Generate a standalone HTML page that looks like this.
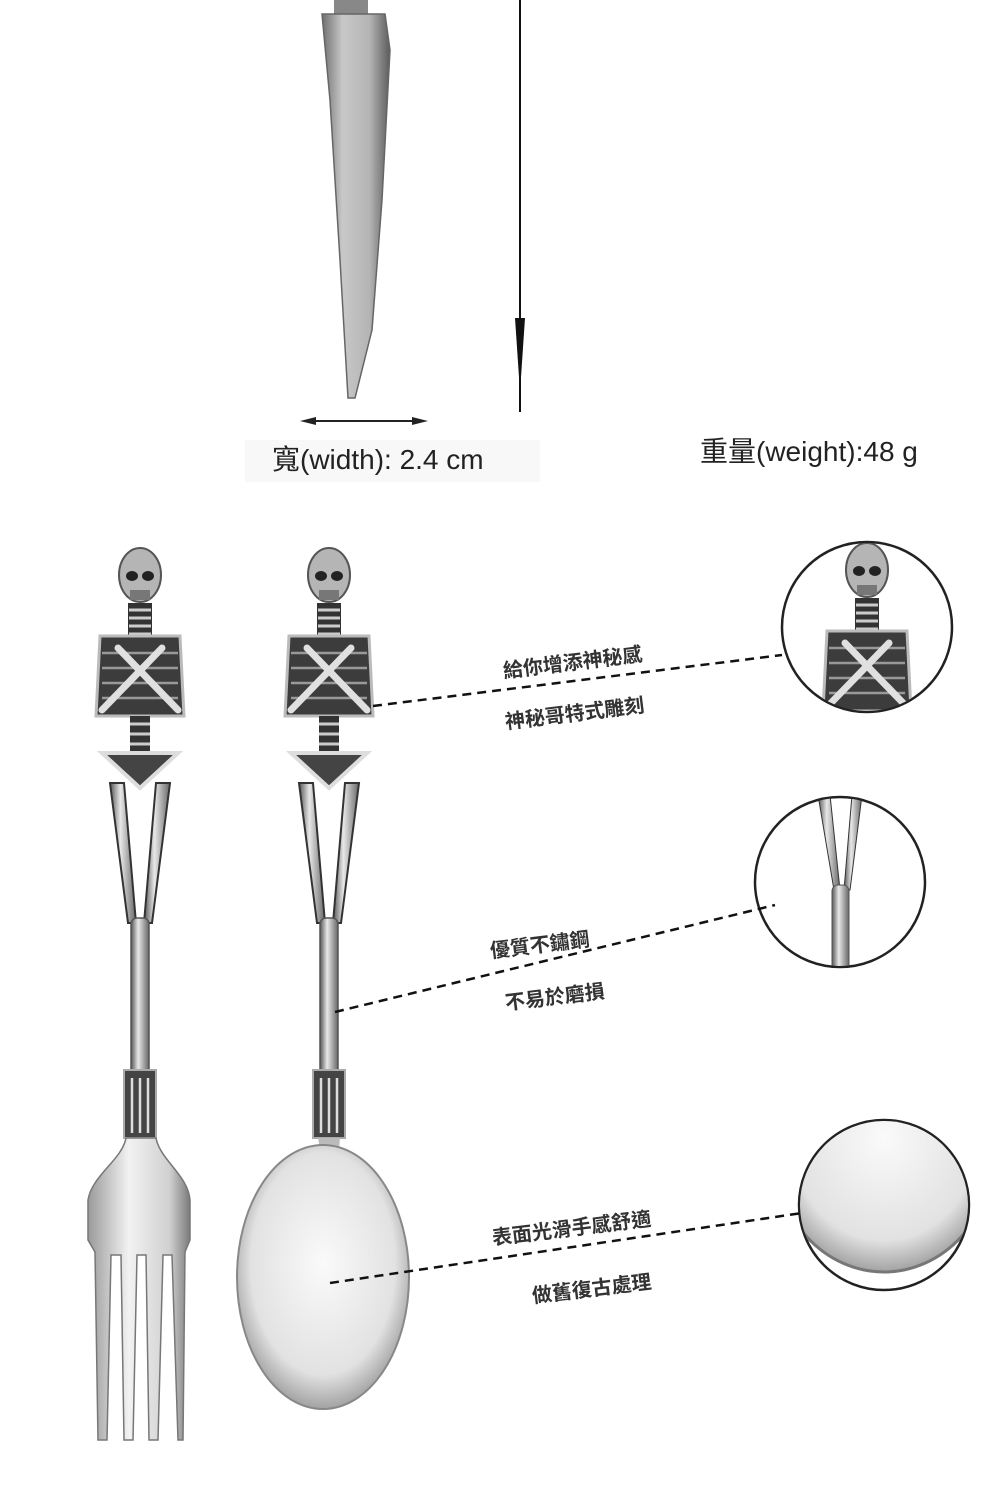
<!DOCTYPE html>
<html><head><meta charset="utf-8"><style>
html,body{margin:0;padding:0;background:#fff;}
body{width:1000px;height:1500px;overflow:hidden;position:relative;font-family:"Liberation Sans","Noto Sans CJK TC",sans-serif;}
.lbl{position:absolute;font-size:20px;color:#333;font-weight:bold;transform:rotate(-7deg);transform-origin:left center;white-space:nowrap;font-family:"Liberation Sans","Noto Sans CJK TC",sans-serif;}
</style></head><body>
<svg width="1000" height="1500" style="position:absolute;left:0;top:0">
<defs>
<linearGradient id="blade" x1="0" x2="1" y1="0" y2="0"><stop offset="0" stop-color="#6f6f6f"/><stop offset="0.3" stop-color="#c8c8c8"/><stop offset="0.7" stop-color="#b4b4b4"/><stop offset="1" stop-color="#5c5c5c"/></linearGradient>
<linearGradient id="bone" x1="0" x2="1"><stop offset="0" stop-color="#555"/><stop offset="0.4" stop-color="#e8e8e8"/><stop offset="1" stop-color="#666"/></linearGradient>
<radialGradient id="spoon" cx="0.5" cy="0.45" r="0.6"><stop offset="0" stop-color="#fafafa"/><stop offset="0.7" stop-color="#e2e2e2"/><stop offset="1" stop-color="#8a8a8a"/></radialGradient>
<linearGradient id="fork" x1="0" x2="1"><stop offset="0" stop-color="#9a9a9a"/><stop offset="0.4" stop-color="#f2f2f2"/><stop offset="0.8" stop-color="#d0d0d0"/><stop offset="1" stop-color="#7a7a7a"/></linearGradient>
<g id="skel">
<rect x="-12" y="55" width="24" height="35" fill="#333"/>
<g stroke="#ccc" stroke-width="3"><line x1="-11" y1="62" x2="11" y2="62"/><line x1="-11" y1="70" x2="11" y2="70"/><line x1="-11" y1="78" x2="11" y2="78"/><line x1="-11" y1="86" x2="11" y2="86"/></g>
<ellipse cx="0" cy="27" rx="21" ry="27" fill="#b5b5b5" stroke="#555" stroke-width="2"/>
<ellipse cx="-8" cy="28" rx="6" ry="5" fill="#222"/><ellipse cx="8" cy="28" rx="6" ry="5" fill="#222"/>
<path d="M-10 42 h20 v10 h-20z" fill="#777"/>
<path d="M-40 88 L40 88 L44 168 L-44 168Z" fill="#3c3c3c" stroke="#bbb" stroke-width="3"/>
<g stroke="#999" stroke-width="2.5"><line x1="-38" y1="105" x2="38" y2="105"/><line x1="-38" y1="120" x2="38" y2="120"/><line x1="-38" y1="135" x2="38" y2="135"/><line x1="-38" y1="150" x2="38" y2="150"/></g>
<g stroke="#e0e0e0" stroke-width="7" stroke-linecap="round"><line x1="-38" y1="162" x2="22" y2="100"/><line x1="38" y1="162" x2="-22" y2="100"/></g>
<rect x="-10" y="168" width="20" height="38" fill="#333"/>
<g stroke="#ccc" stroke-width="3"><line x1="-10" y1="176" x2="10" y2="176"/><line x1="-10" y1="186" x2="10" y2="186"/><line x1="-10" y1="196" x2="10" y2="196"/></g>
<path d="M-38 205 L38 205 L0 240Z" fill="#444" stroke="#ddd" stroke-width="4"/>
<path d="M-30 235 L-16 235 L-4 375 L-12 375Z" fill="url(#bone)" stroke="#333" stroke-width="2"/>
<path d="M30 235 L16 235 L4 375 L12 375Z" fill="url(#bone)" stroke="#333" stroke-width="2"/>
<rect x="-9" y="370" width="18" height="160" rx="6" fill="url(#bone)" stroke="#555" stroke-width="1.5"/>
<rect x="-16" y="522" width="32" height="68" fill="#444" stroke="#aaa" stroke-width="2"/>
<g stroke="#ddd" stroke-width="2.5"><line x1="-8" y1="530" x2="-8" y2="585"/><line x1="0" y1="530" x2="0" y2="585"/><line x1="8" y1="530" x2="8" y2="585"/></g>
</g>
</defs>
<!-- knife -->
<rect x="334" y="0" width="34" height="14" fill="#888"/>
<path d="M322 14 L385 14 L390 50 L382 200 L372 330 L355 398 L348 398 L340 260 L330 100Z" fill="url(#blade)" stroke="#666" stroke-width="1.5"/>
<!-- height line -->
<line x1="520" y1="0" x2="520" y2="412" stroke="#111" stroke-width="2"/>
<path d="M515 318 L520 392 L525 318Z" fill="#111"/>
<!-- width arrow -->
<line x1="305" y1="421" x2="420" y2="421" stroke="#222" stroke-width="2"/>
<path d="M300 421 L316 417 L316 425Z" fill="#222"/><path d="M428 421 L412 417 L412 425Z" fill="#222"/>
<rect x="245" y="440" width="295" height="42" fill="#f8f8f8"/>
<text x="272" y="469" font-size="28" fill="#222" font-family="Liberation Sans, Noto Sans CJK TC, sans-serif">寬(width): 2.4 cm</text>
<text x="700" y="461" font-size="28" fill="#222" font-family="Liberation Sans, Noto Sans CJK TC, sans-serif">重量(weight):48 g</text>
<!-- fork -->
<use href="#skel" x="140" y="548"/>
<path d="M126 1138 L156 1138 C160 1160 188 1175 190 1200 L190 1240 L185 1252 L183 1440 L178 1440 L172 1255 L163 1255 L158 1440 L149 1440 L146 1255 L137 1255 L133 1440 L124 1440 L121 1255 L111 1255 L107 1440 L98 1440 L95 1252 L88 1240 L88 1200 C92 1175 122 1160 126 1138Z" fill="url(#fork)" stroke="#777" stroke-width="1.5"/>
<!-- spoon -->
<use href="#skel" x="329" y="548"/>
<path d="M318 1138 L340 1138 L338 1160 L322 1160Z" fill="#bbb"/>
<ellipse cx="323" cy="1277" rx="86" ry="132" fill="url(#spoon)" stroke="#888" stroke-width="2"/>
<!-- circles -->
<circle cx="867" cy="627" r="85" fill="#fff" stroke="#222" stroke-width="2.5"/>
<clipPath id="c1"><circle cx="867" cy="627" r="84"/></clipPath>
<g clip-path="url(#c1)"><use href="#skel" x="867" y="543"/></g>
<circle cx="840" cy="882" r="85" fill="#fff" stroke="#222" stroke-width="2.5"/>
<clipPath id="c2"><circle cx="840" cy="882" r="84"/></clipPath>
<g clip-path="url(#c2)"><path d="M818 795 L830 795 L840 890 L834 890Z" fill="url(#bone)" stroke="#333"/><path d="M862 795 L852 795 L844 890 L850 890Z" fill="url(#bone)" stroke="#333"/><rect x="832" y="885" width="17" height="90" rx="6" fill="url(#bone)" stroke="#555"/></g>
<circle cx="884" cy="1205" r="85" fill="#fff" stroke="#222" stroke-width="2.5"/>
<clipPath id="c3"><circle cx="884" cy="1205" r="84"/></clipPath>
<g clip-path="url(#c3)"><ellipse cx="884" cy="1150" rx="110" ry="122" fill="url(#spoon)" stroke="#777" stroke-width="3"/></g>
<!-- dashed -->
<g stroke="#111" stroke-width="2.5" stroke-dasharray="9 6">
<line x1="373" y1="706" x2="782" y2="655"/>
<line x1="335" y1="1012" x2="775" y2="905"/>
<line x1="330" y1="1283" x2="802" y2="1213"/>
</g>
</svg>
<div class="lbl" style="left:503px;top:655px">給你增添神秘感</div>
<div class="lbl" style="left:505px;top:706px">神秘哥特式雕刻</div>
<div class="lbl" style="left:490px;top:935px">優質不鏽鋼</div>
<div class="lbl" style="left:505px;top:987px">不易於磨損</div>
<div class="lbl" style="left:492px;top:1222px">表面光滑手感舒適</div>
<div class="lbl" style="left:532px;top:1280px">做舊復古處理</div>
</body></html>
